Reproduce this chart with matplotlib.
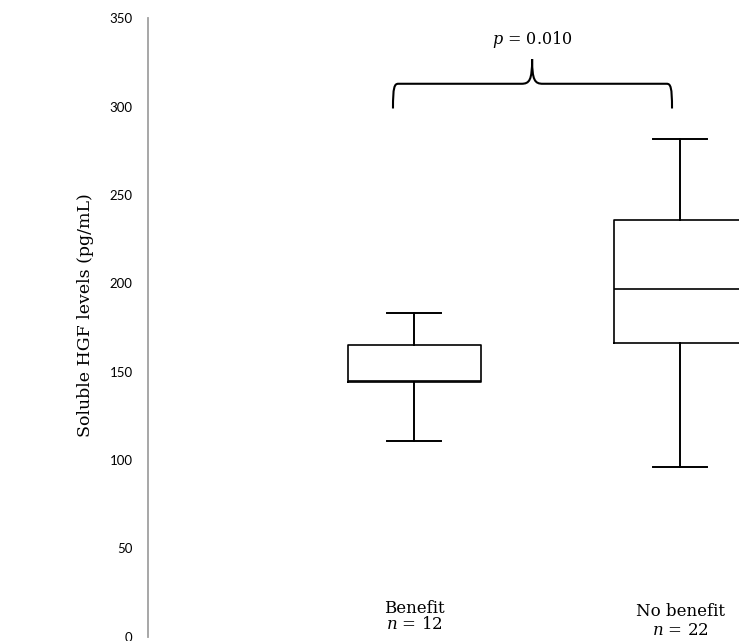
import matplotlib
matplotlib.use("Agg")
import matplotlib.pyplot as plt
from matplotlib.path import Path
from matplotlib.patches import PathPatch

plt.rcParams['mathtext.fontset'] = 'custom'
plt.rcParams['mathtext.rm'] = 'DejaVu Serif'
plt.rcParams['mathtext.it'] = 'DejaVu Serif:italic'

# Data
groups = ["Benefit", "No benefit"]
group_n = [12, 22]
whislo = [111, 96]
q1 = [144, 166]
medians = [145, 197]
q3 = [165, 236]
whishi = [183, 282]
p_text = "0.010"
y_ticks = [0, 50, 100, 150, 200, 250, 300, 350]

fig = plt.figure(figsize=(7.39, 6.41), dpi=100)
ax = fig.add_axes([148/739, 4.3/641, 1 - 148/739, (636.7 - 18.4)/641])

stats = []
for i in range(len(groups)):
    stats.append(dict(med=medians[i], q1=q1[i], q3=q3[i],
                      whislo=whislo[i], whishi=whishi[i], fliers=[], label=groups[i]))
positions = [1, 2]
ax.bxp(stats, positions=positions, widths=0.5, showfliers=False,
       boxprops=dict(color='black', lw=1.2),
       medianprops=dict(color='black', lw=1.2),
       whiskerprops=dict(color='black', lw=1.4),
       capprops=dict(color='black', lw=1.4),
       capwidths=0.2)

ax.set_xlim(0, 591/266)
ax.set_ylim(0, 350)
ax.set_yticks(y_ticks)
ax.set_yticklabels([str(t) for t in y_ticks], fontfamily='Lato', fontsize=9.5)
ax.tick_params(axis='y', length=0, pad=11)
ax.set_xticks([])
for s in ['top', 'right', 'bottom']:
    ax.spines[s].set_visible(False)
ax.spines['left'].set_color('#a0a0a0')
ax.spines['left'].set_linewidth(1.3)

# category labels
name_y = [16, 14]
n_y = [7, 3.5]
for i, pos in enumerate(positions):
    ax.text(pos, name_y[i], groups[i], ha='center', va='center',
            fontfamily='DejaVu Serif', fontsize=12)
    ax.text(pos, n_y[i], f"$n$ = {group_n[i]}", ha='center', va='center',
            fontfamily='DejaVu Serif', fontsize=12)

# brace
xl, xr, xm = 0.921, 1.97, 1.444
yb, yh, yp = 299, 313, 327
verts = [(xl, yb), (xl, yh - 2), (xl + 0.005, yh), (xl + 0.02, yh),
         (xm - 0.04, yh),
         (xm - 0.01, yh), (xm, yh + 2), (xm, yp),
         (xm, yh + 2), (xm + 0.01, yh), (xm + 0.04, yh),
         (xr - 0.02, yh),
         (xr - 0.005, yh), (xr, yh - 2), (xr, yb)]
codes = [Path.MOVETO, Path.CURVE4, Path.CURVE4, Path.CURVE4,
         Path.LINETO,
         Path.CURVE4, Path.CURVE4, Path.CURVE4,
         Path.CURVE4, Path.CURVE4, Path.CURVE4,
         Path.LINETO,
         Path.CURVE4, Path.CURVE4, Path.CURVE4]
ax.add_patch(PathPatch(Path(verts, codes), fill=False, lw=1.5, color='black',
                       clip_on=False))
ax.text(xm, 338, f"$p$ = {p_text}", ha='center', va='center',
        fontfamily='DejaVu Serif', fontsize=11.5, clip_on=False)

fig.text(85/739, 1 - 315/641, "Soluble HGF levels (pg/mL)", rotation=90,
         ha='center', va='center', fontfamily='DejaVu Serif', fontsize=12.5)

fig.savefig("out.png", dpi=100)
